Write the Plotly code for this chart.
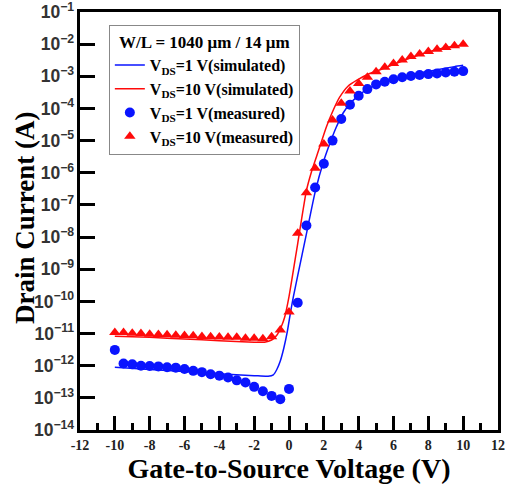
import plotly.graph_objects as go

# Measured gate voltages (V)
vgs_meas = [-10, -9.5, -9, -8.5, -8, -7.5, -7, -6.5, -6, -5.5, -5, -4.5, -4, -3.5, -3, -2.5,
            -2, -1.5, -1, -0.5, 0, 0.5, 1, 1.5, 2, 2.5, 3, 3.5, 4, 4.5, 5, 5.5, 6, 6.5,
            7, 7.5, 8, 8.5, 9, 9.5, 10]

# VDS = 1 V measured drain current (A)
id_1v_meas = [3.1e-12, 1.17e-12, 1.10e-12, 1.0e-12, 9.8e-13, 9.5e-13, 8.9e-13, 8.7e-13, 7.9e-13,
              6.9e-13, 6.3e-13, 5.4e-13, 4.9e-13, 4.3e-13, 3.5e-13, 3.0e-13, 2.2e-13, 1.6e-13,
              1.15e-13, 9.1e-14, 1.9e-13, 9.1e-11, 2.3e-8, 3.5e-7, 1.9e-6, 1.0e-5, 4.7e-5,
              1.3e-4, 2.5e-4, 4.0e-4, 5.6e-4, 6.8e-4, 8.1e-4, 9.3e-4, 1.02e-3, 1.10e-3,
              1.17e-3, 1.23e-3, 1.32e-3, 1.38e-3, 1.45e-3]

# VDS = 10 V measured drain current (A)
id_10v_meas = [1.07e-11, 1.07e-11, 1.02e-11, 1.0e-11, 9.5e-12, 9.3e-12, 9.1e-12, 8.9e-12, 8.7e-12,
               8.5e-12, 8.1e-12, 7.9e-12, 7.8e-12, 7.6e-12, 7.6e-12, 7.2e-12, 7.1e-12, 6.9e-12,
               7.9e-12, 1.29e-11, 4.7e-11, 1.32e-8, 2.4e-7, 1.38e-6, 7.8e-6, 4.4e-5, 1.45e-4,
               3.5e-4, 6.0e-4, 9.3e-4, 1.38e-3, 1.9e-3, 2.5e-3, 3.2e-3, 4.1e-3, 4.9e-3,
               5.9e-3, 6.9e-3, 7.9e-3, 8.9e-3, 1.0e-2]

# VDS = 1 V simulated
vgs_sim_1v = [-10, -8, -6, -4, -2, -1.2, -0.9, -0.7, -0.5, -0.3, -0.1, 0.1, 0.25, 0.5, 1.0, 1.5,
              2.0, 2.35, 2.7, 3.1, 3.5, 3.9, 4.6, 5.5, 6.5, 7.5, 8.5, 9.5, 10]
id_1v_sim = [8.9e-13, 7.6e-13, 6.6e-13, 5.6e-13, 4.9e-13, 4.7e-13, 5.2e-13, 7.6e-13, 1.4e-12,
             3.5e-12, 1.12e-11, 5.0e-11, 1.38e-10, 6.3e-10, 1.26e-8, 2.5e-7, 2.4e-6, 8.3e-6,
             2.5e-5, 7.1e-5, 1.4e-4, 2.3e-4, 4.3e-4, 6.6e-4, 9.5e-4, 1.26e-3, 1.6e-3, 2.0e-3,
             2.2e-3]

# VDS = 10 V simulated
vgs_sim_10v = [-10, -8, -6, -4, -2, -1.4, -1.0, -0.7, -0.45, -0.25, 0, 0.5, 1.0, 1.3, 1.7, 2.15,
               2.5, 2.9, 3.4, 3.9, 4.6, 5.5, 6.5, 7.5, 8.5, 9.5, 10]
id_10v_sim = [8.3e-12, 7.6e-12, 6.8e-12, 6.0e-12, 5.4e-12, 5.4e-12, 6.3e-12, 8.9e-12, 1.6e-11,
              3.2e-11, 1.4e-10, 6.3e-9, 2.8e-7, 1.12e-6, 5.0e-6, 2.7e-5, 7.9e-5, 2.2e-4, 5.0e-4,
              7.6e-4, 1.2e-3, 1.8e-3, 3.0e-3, 4.7e-3, 6.8e-3, 8.7e-3, 9.5e-3]

x_tick_vals = [-12, -10, -8, -6, -4, -2, 0, 2, 4, 6, 8, 10, 12]

BLUE = "#0a14ff"
RED = "#ff0a0a"
SERIF = "Liberation Serif, Times New Roman, serif"
SANS = "Liberation Sans, Arial, sans-serif"

fig = go.Figure()
fig.add_trace(go.Scatter(x=vgs_sim_1v, y=id_1v_sim, mode="lines",
                         line=dict(color=BLUE, width=1.5, shape="spline", smoothing=0.6),
                         name="V<sub>DS</sub>=1 V(simulated)"))
fig.add_trace(go.Scatter(x=vgs_sim_10v, y=id_10v_sim, mode="lines",
                         line=dict(color=RED, width=1.5, shape="spline", smoothing=0.6),
                         name="V<sub>DS</sub>=10 V(simulated)"))
fig.add_trace(go.Scatter(x=vgs_meas, y=id_1v_meas, mode="markers",
                         marker=dict(color=BLUE, size=10, symbol="circle"),
                         name="V<sub>DS</sub>=1 V(measured)"))
fig.add_trace(go.Scatter(x=vgs_meas, y=id_10v_meas, mode="markers",
                         marker=dict(color=RED, size=10, symbol="triangle-up"),
                         name="V<sub>DS</sub>=10 V(measured)"))

fig.update_layout(
    width=509, height=487,
    margin=dict(l=80, r=11, t=12, b=57),
    paper_bgcolor="white", plot_bgcolor="white",
    showlegend=True,
    legend=dict(
        x=0.069, y=0.969, xanchor="left", yanchor="top",
        bgcolor="white", bordercolor="#888888", borderwidth=1,
        font=dict(family=SERIF, size=16, color="black", weight="bold"),
        title=dict(text="W/L = 1040 μm / 14 μm", side="top center",
                   font=dict(family=SERIF, size=17, color="black", weight="bold")),
        tracegroupgap=0, itemwidth=30,
    ),
    xaxis=dict(
        range=[-12, 12], tickvals=x_tick_vals,
        ticktext=[str(v) for v in x_tick_vals],
        ticks="inside", ticklen=14, tickwidth=2.5, tickcolor="black",
        minor=dict(dtick=1, ticks="inside", ticklen=7, tickwidth=2.5, tickcolor="black"),
        showline=True, linewidth=3, linecolor="black", mirror=True,
        showgrid=False, zeroline=False, automargin=False, ticklabeloverflow="allow",
        tickfont=dict(family=SERIF, size=14, color="#222222", weight="bold"),
        title=dict(text="Gate-to-Source Voltage (V)", standoff=4,
                   font=dict(family=SERIF, size=28, color="black", weight="bold")),
    ),
    yaxis=dict(
        type="log", range=[-14, -1], dtick=1, exponentformat="power",
        ticks="inside", ticklen=15, tickwidth=2.5, tickcolor="black",
        showline=True, linewidth=3, linecolor="black", mirror=True,
        showgrid=False, zeroline=False, automargin=False, ticklabeloverflow="allow",
        tickfont=dict(family=SANS, size=14, color="#333333", weight="bold"),
    ),
    annotations=[dict(
        text="Drain Current (A)", textangle=-90, showarrow=False,
        xref="paper", yref="paper", x=-0.1316, y=0.507,
        xanchor="center", yanchor="middle",
        font=dict(family=SERIF, size=27, color="black", weight="bold"),
    )],
)

fig.write_html("out.html", post_script="document.body.style.margin='0';",
               config={"displayModeBar": False})
